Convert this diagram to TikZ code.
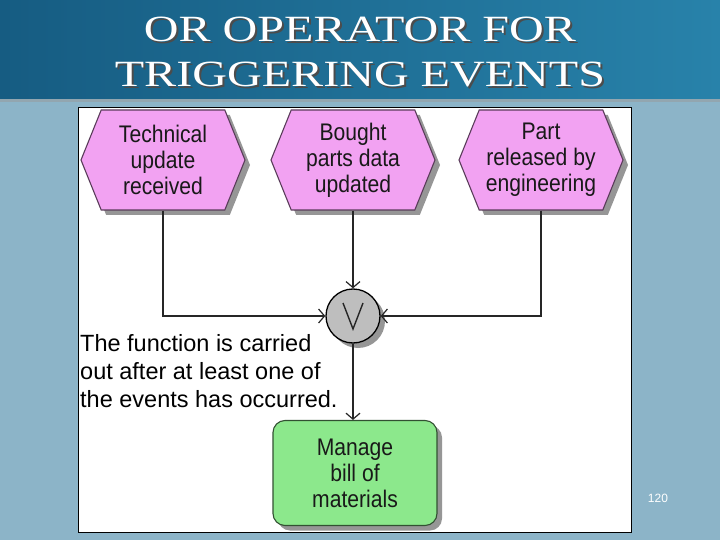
\documentclass[tikz,border=0pt]{standalone}
\usepackage{fontspec}
\setmainfont{Liberation Serif}
\newfontfamily\boxfont[FakeStretch=0.88]{Liberation Sans}
\newfontfamily\descfont{Liberation Sans}
\newfontfamily\titlefont[FakeStretch=1.3]{Liberation Serif}
\usetikzlibrary{shapes.symbols,shadows,arrows.meta}
\definecolor{banddark}{RGB}{22,92,130}
\definecolor{bandlight}{RGB}{40,130,170}
\definecolor{paleblue}{RGB}{140,180,200}
\definecolor{evpink}{RGB}{242,162,242}
\definecolor{evline}{RGB}{90,60,90}
\definecolor{fngreen}{RGB}{140,232,140}
\definecolor{fnline}{RGB}{50,80,50}
\definecolor{orgray}{RGB}{190,190,190}
\definecolor{shadowgray}{RGB}{150,150,150}
\newcommand{\shadowtitle}[1]{\rlap{\kern2pt\raisebox{-2pt}{\color{black!70}#1}}#1}
\tikzset{
  titletext/.style={font=\titlefont\fontsize{37}{40}\selectfont, inner sep=0, text=white},
  eventbox/.style={signal, signal to=east and west, signal pointer angle=136,
    minimum width=164pt, minimum height=100pt, inner sep=0,
    fill=evpink, draw=evline, line width=1.1pt, align=center,
    font=\boxfont\fontsize{24}{26}\selectfont, text=black!90,
    drop shadow={shadow xshift=5pt, shadow yshift=-5pt, fill=shadowgray, opacity=1}},
  funcbox/.style={rectangle, rounded corners=12pt, minimum width=164pt,
    minimum height=105pt, inner sep=0, fill=fngreen, draw=fnline, line width=1.1pt,
    align=center, font=\boxfont\fontsize{24}{26}\selectfont, text=black!90,
    drop shadow={shadow xshift=5pt, shadow yshift=-5pt, fill=shadowgray, opacity=1}},
  orop/.style={circle, minimum size=54pt, inner sep=0, fill=orgray, draw=black,
    line width=1.3pt,
    drop shadow={shadow xshift=5pt, shadow yshift=-5pt, fill=shadowgray, opacity=1}},
  conn/.style={draw=black!85, line width=1.3pt, -{Straight Barb[length=6pt,width=14pt,line width=1.2pt]}},
}
\begin{document}
\begin{tikzpicture}[x=1pt,y=-1pt]
\useasboundingbox (0,0) rectangle (720,540);
% background
\fill[paleblue] (0,0) rectangle (720,540);
\shade[left color=banddark, right color=bandlight] (0,0) rectangle (720,99);
\fill[black!40, opacity=0.5] (0,99) rectangle (720,102);
% title
\node[titletext] (t1) at (360,30) {\shadowtitle{OR OPERATOR FOR}};
\node[titletext] (t2) at (360,76) {\shadowtitle{TRIGGERING EVENTS}};
% panel
\node[draw=black, fill=white, line width=1pt, minimum width=553pt, minimum height=425pt, inner sep=0] (panel) at (355,320) {};
% events
\node[eventbox] (h1) at (163,160) {Technical\\update\\received};
\node[eventbox] (h2) at (353,160) {Bought\\parts data\\updated};
\node[eventbox] (h3) at (541,160) {Part\\released by\\engineering};
% operator
\node[orop] (or) at (353,316) {};
\draw[line width=1.4pt, black!85] ([shift={(-10,-13)}]or.center) -- ([shift={(0,13)}]or.center) -- ([shift={(10,-13)}]or.center);
% function
\node[funcbox] (mb) at (355,473) {Manage\\bill of\\materials};
% connectors
\draw[conn] (h1.south) |- (or.west);
\draw[conn] (h2.south) -- (or.north);
\draw[conn] (h3.south) |- (or.east);
\draw[conn] (or.south) -- (mb.north -| or.south);
% description
\node[anchor=north west, inner sep=0, align=left, font=\descfont\fontsize{23.5}{28}\selectfont] (desc) at (80,334)
  {The function is carried\\out after at least one of\\the events has occurred.};
% page number
\node[text=white, font=\descfont\fontsize{12}{14}\selectfont] (pg) at (658,498) {120};
\end{tikzpicture}
\end{document}
